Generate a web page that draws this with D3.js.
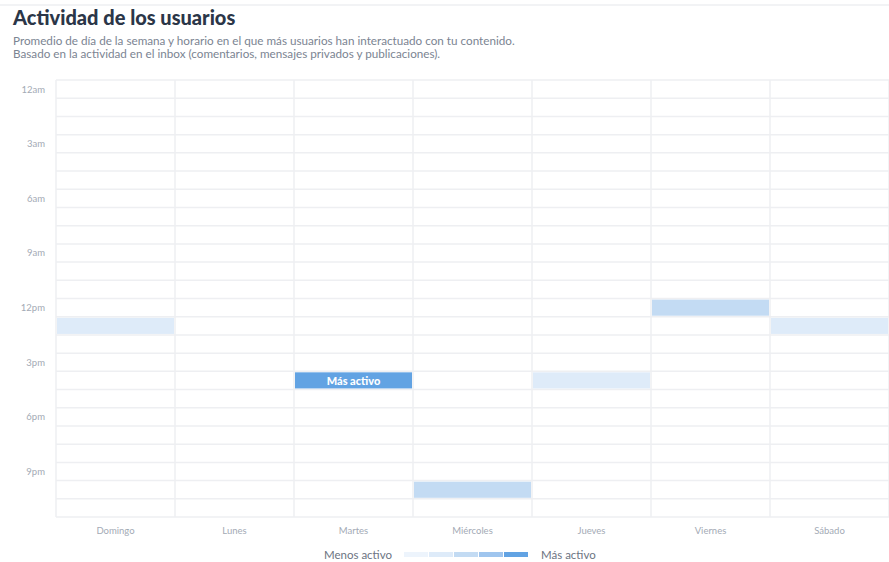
<!DOCTYPE html>
<html>
<head>
<meta charset="utf-8">
<script src="https://cdn.jsdelivr.net/npm/d3@7"></script>
<style>
  body { margin: 0; background: #fff; font-family: Lato, "Open Sans", sans-serif; }
</style>
</head>
<body>
<svg id="chart" width="889" height="562"></svg>
<script>
const svg = d3.select("#chart");
const width = +svg.attr("width");
const height = +svg.attr("height");
const margin = { top: 80, right: 0, bottom: 45, left: 56 };

// data
const days = ["Domingo", "Lunes", "Martes", "Miércoles", "Jueves", "Viernes", "Sábado"];
const hours = d3.range(24);
const hourTicks = [0, 3, 6, 9, 12, 15, 18, 21];
const hourLabels = ["12am", "3am", "6am", "9am", "12pm", "3pm", "6pm", "9pm"];
const activeDays = ["Domingo", "Martes", "Miércoles", "Jueves", "Viernes", "Sábado"];
const activeHours = [13, 16, 22, 16, 12, 13];
const activeLevels = [2, 5, 3, 2, 3, 2];
const legendLevels = [1, 2, 3, 4, 5];

const cells = activeDays.map((d, i) => ({ day: d, hour: activeHours[i], level: activeLevels[i] }));

const x = d3.scaleBand()
  .domain(days)
  .range([margin.left, width - margin.right]);

const y = d3.scaleBand()
  .domain(hours)
  .range([margin.top, height - margin.bottom]);

const color = d3.scaleOrdinal()
  .domain(legendLevels)
  .range(["#edf4fc", "#deebf9", "#c3dbf3", "#9fc5ee", "#62a3e3"]);

// top separator
svg.append("line")
  .attr("x1", 0).attr("x2", width)
  .attr("y1", 5).attr("y2", 5)
  .attr("stroke", "#f2f3f5")
  .attr("stroke-width", 2);

// Title
svg.append("text")
  .attr("x", 13)
  .attr("y", 25)
  .attr("font-size", "20px")
  .attr("font-weight", "900")
  .attr("fill", "#2b3648")
  .text("Actividad de los usuarios");

svg.append("text")
  .attr("x", 13)
  .attr("y", 45)
  .attr("font-size", "11.7px")
  .attr("fill", "#7b8492")
  .text("Promedio de día de la semana y horario en el que más usuarios han interactuado con tu contenido.");

svg.append("text")
  .attr("x", 13)
  .attr("y", 58)
  .attr("font-size", "11.7px")
  .attr("fill", "#7b8492")
  .text("Basado en la actividad en el inbox (comentarios, mensajes privados y publicaciones).");

// cells
svg.selectAll("rect.cell")
  .data(cells)
  .enter()
  .append("rect")
  .attr("class", "cell")
  .attr("x", d => x(d.day) + 1)
  .attr("y", d => y(d.hour) + 1)
  .attr("width", x.bandwidth() - 2)
  .attr("height", y.bandwidth() - 2)
  .attr("fill", d => color(d.level));

// grid lines
svg.append("g")
  .selectAll("line")
  .data(d3.range(25))
  .enter()
  .append("line")
  .attr("x1", margin.left)
  .attr("x2", width - margin.right)
  .attr("y1", d => margin.top + d * y.step())
  .attr("y2", d => margin.top + d * y.step())
  .attr("stroke", "#eeeff2")
  .attr("stroke-width", 1.5);

svg.append("g")
  .selectAll("line")
  .data(d3.range(8))
  .enter()
  .append("line")
  .attr("x1", d => margin.left + d * x.step())
  .attr("x2", d => margin.left + d * x.step())
  .attr("y1", margin.top)
  .attr("y2", height - margin.bottom)
  .attr("stroke", "#eeeff2")
  .attr("stroke-width", 1.5);

// "Más activo" label in the busiest cell
const busiest = cells.find(d => d.level === 5);
svg.append("text")
  .attr("x", x(busiest.day) + x.bandwidth() / 2)
  .attr("y", y(busiest.hour) + y.bandwidth() / 2)
  .attr("text-anchor", "middle")
  .attr("dominant-baseline", "central")
  .attr("font-size", "11px")
  .attr("font-weight", "900")
  .attr("fill", "#ffffff")
  .text("Más activo");

// y labels
svg.append("g")
  .selectAll("text")
  .data(hourTicks)
  .enter()
  .append("text")
  .attr("x", 45)
  .attr("y", d => y(d) + y.bandwidth() / 2)
  .attr("text-anchor", "end")
  .attr("dominant-baseline", "central")
  .attr("font-size", "9.5px")
  .attr("fill", "#a3aab5")
  .text((d, i) => hourLabels[i]);

// x labels
svg.append("g")
  .selectAll("text")
  .data(days)
  .enter()
  .append("text")
  .attr("x", d => x(d) + x.bandwidth() / 2)
  .attr("y", height - margin.bottom + 17)
  .attr("text-anchor", "middle")
  .attr("font-size", "9.5px")
  .attr("fill", "#a3aab5")
  .text(d => d);

// legend
const legend = svg.append("g");
legend.selectAll("rect")
  .data(legendLevels)
  .enter()
  .append("rect")
  .attr("x", (d, i) => 404 + i * 25)
  .attr("y", 552)
  .attr("width", 24)
  .attr("height", 5)
  .attr("fill", d => color(d));

legend.append("text")
  .attr("x", 392)
  .attr("y", 559)
  .attr("text-anchor", "end")
  .attr("font-size", "11.5px")
  .attr("fill", "#6c7482")
  .text("Menos activo");

legend.append("text")
  .attr("x", 541)
  .attr("y", 559)
  .attr("font-size", "11.5px")
  .attr("fill", "#6c7482")
  .text("Más activo");
</script>
</body>
</html>
